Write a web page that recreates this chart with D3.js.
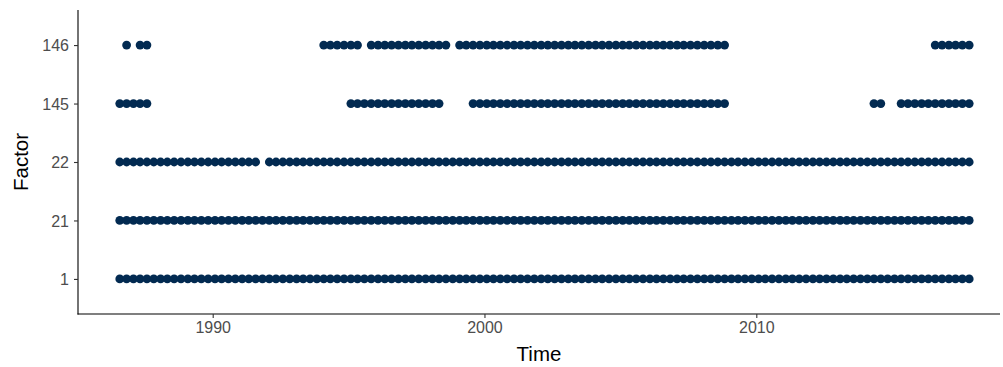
<!DOCTYPE html>
<html>
<head>
<meta charset="utf-8">
<script src="https://cdn.jsdelivr.net/npm/d3@7"></script>
<style>
  html, body { margin: 0; padding: 0; background: #fff; }
  svg { display: block; font-family: "Liberation Sans", Arial, sans-serif; }
</style>
</head>
<body>
<svg id="chart" width="1003" height="367"></svg>
<script>
// ---- Data ----
// Factor levels, bottom to top
const factors = ["1", "21", "22", "145", "146"];
// Runs of quarters in which each factor is present: [start, end]
const runs1 = [["1986-08-01", "2017-11-01"]];
const runs21 = [["1986-08-01", "2017-11-01"]];
const runs22 = [["1986-08-01", "1991-08-01"], ["1992-02-01", "2017-11-01"]];
const runs145 = [["1986-08-01", "1987-08-01"], ["1995-02-01", "1998-05-01"],
                 ["1999-08-01", "2008-11-01"], ["2014-05-01", "2014-08-01"],
                 ["2015-05-01", "2017-11-01"]];
const runs146 = [["1986-11-01", "1986-11-01"], ["1987-05-01", "1987-08-01"],
                 ["1994-02-01", "1995-05-01"], ["1995-11-01", "1998-08-01"],
                 ["1999-02-01", "2008-11-01"], ["2016-08-01", "2017-11-01"]];
const xTickLabels = ["1990", "2000", "2010"];

const runsByFactor = { "1": runs1, "21": runs21, "22": runs22, "145": runs145, "146": runs146 };

// ---- Build points (one per quarter inside each run) ----
const parse = d3.utcParse("%Y-%m-%d");
const points = [];
factors.forEach(f => {
  runsByFactor[f].forEach(([s, e]) => {
    const start = parse(s), end = parse(e);
    d3.utcMonth.range(start, d3.utcMonth.offset(end, 1), 3).forEach(t => {
      points.push({ time: t, factor: f });
    });
  });
});

// ---- Layout ----
const svg = d3.select("#chart");
const panelLeft = 78, panelRight = 1000, panelTop = 10, panelBottom = 314;
const color = "#022a51";

// x: calibrate with reference ticks, then extend to panel edges
const xCal = d3.scaleUtc()
  .domain([parse("1990-01-01"), parse("2010-01-01")])
  .range([212.7, 756.3]);
const x = d3.scaleUtc()
  .domain([xCal.invert(panelLeft), xCal.invert(panelRight)])
  .range([panelLeft, panelRight]);

const y = d3.scalePoint()
  .domain(factors)
  .range([panelBottom, panelTop])
  .padding(0.6);

// Points
svg.append("g")
  .selectAll("circle")
  .data(points)
  .join("circle")
  .attr("cx", d => x(d.time))
  .attr("cy", d => y(d.factor))
  .attr("r", 4.4)
  .attr("fill", color);

// Axes
const xAxis = d3.axisBottom(x)
  .tickValues(xTickLabels.map(v => parse(v + "-01-01")))
  .tickFormat(d3.utcFormat("%Y"))
  .tickSize(4)
  .tickSizeOuter(0)
  .tickPadding(3);
const gx = svg.append("g")
  .attr("transform", `translate(0,${panelBottom})`)
  .call(xAxis);

const yAxis = d3.axisLeft(y)
  .tickSize(4)
  .tickSizeOuter(0)
  .tickPadding(5);
const gy = svg.append("g")
  .attr("transform", `translate(${panelLeft},0)`)
  .call(yAxis);

[gx, gy].forEach(g => {
  g.attr("font-size", null).attr("font-family", null);
  g.select(".domain").attr("stroke", "#000").attr("stroke-width", 1.1);
  g.selectAll(".tick line").attr("stroke", "#333").attr("stroke-width", 1.1);
  g.selectAll(".tick text")
    .attr("fill", "#4d4d4d")
    .style("font-size", "16px")
    .style("font-family", "'Liberation Sans', Arial, sans-serif");
});
gy.selectAll(".tick text").attr("dy", "0.36em");
gx.selectAll(".tick text").attr("dy", "0.76em");
gy.select(".domain").attr("d", `M0,${panelTop}V${panelBottom + 0.5}`);
gx.select(".domain").attr("d", `M${panelLeft - 0.5},0H${panelRight}`);

// Axis titles
svg.append("text")
  .attr("x", (panelLeft + panelRight) / 2)
  .attr("y", 361)
  .attr("text-anchor", "middle")
  .style("font-size", "20.5px")
  .attr("fill", "#000")
  .text("Time");

svg.append("text")
  .attr("transform", `translate(28,${(panelTop + panelBottom) / 2}) rotate(-90)`)
  .attr("text-anchor", "middle")
  .style("font-size", "20.5px")
  .attr("fill", "#000")
  .text("Factor");
</script>
</body>
</html>
